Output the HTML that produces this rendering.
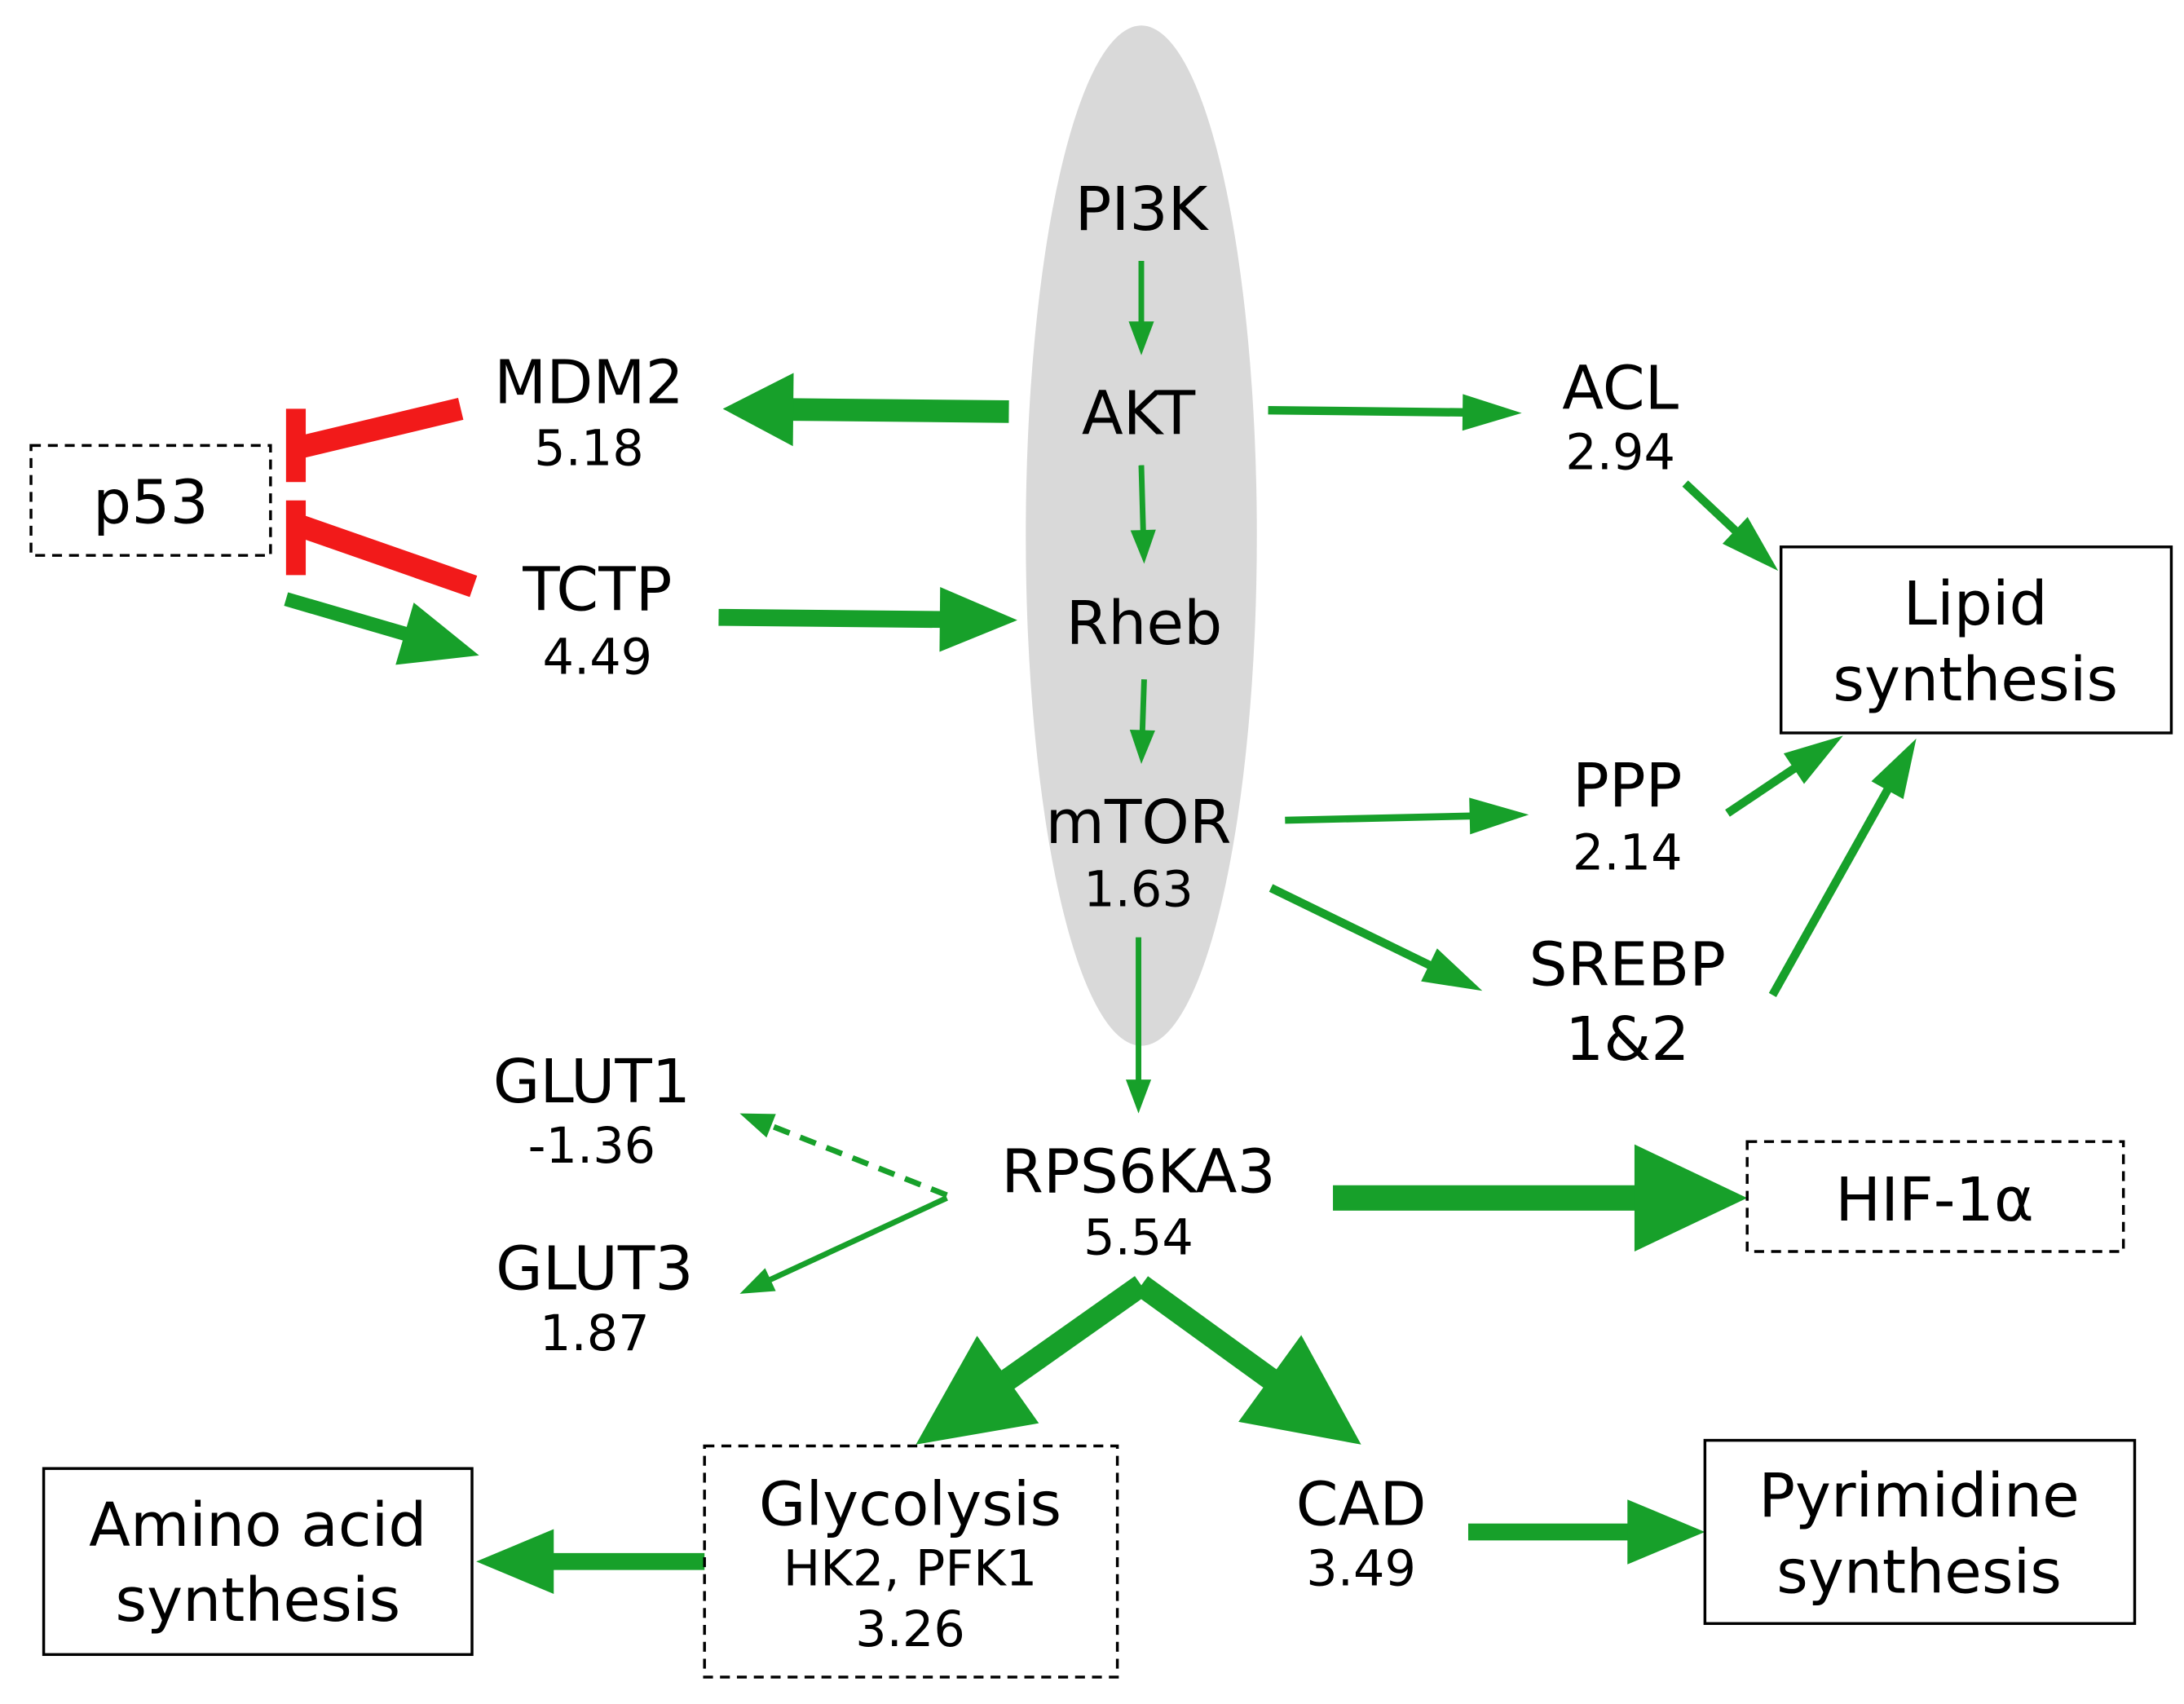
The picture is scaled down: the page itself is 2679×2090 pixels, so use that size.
<!DOCTYPE html>
<html><head><meta charset="utf-8"><style>html,body{margin:0;padding:0;background:#fff}svg{display:block}</style></head>
<body>
<svg id="sv" width="2679" height="2090" viewBox="0 0 1550 1209" xmlns="http://www.w3.org/2000/svg" font-family="'DejaVu Sans','Liberation Sans',sans-serif">
<ellipse cx="810" cy="380" rx="82" ry="362" fill="#d9d9d9"/>
<g id="arrows"></g>
<g stroke="#f21a1a" fill="none">
<line x1="327" y1="290" x2="210" y2="318" stroke-width="16"/>
<line x1="210" y1="290" x2="210" y2="342" stroke-width="14"/>
<line x1="336" y1="416" x2="210" y2="372" stroke-width="16"/>
<line x1="210" y1="355" x2="210" y2="408" stroke-width="14"/>
</g>
<g fill="none" stroke="#000" stroke-width="2">
<rect x="22" y="316" width="170" height="78" stroke-dasharray="7,5"/>
<rect x="1264" y="388" width="277" height="132"/>
<rect x="1240" y="810" width="267" height="78" stroke-dasharray="7,5"/>
<rect x="31" y="1042" width="304" height="132"/>
<rect x="500" y="1026" width="293" height="164" stroke-dasharray="7,5"/>
<rect x="1210" y="1022" width="305" height="130"/>
</g>
<g text-anchor="middle" fill="#000" font-size="43">
<text x="810" y="163">PI3K</text>
<text x="808" y="308">AKT</text>
<text x="812" y="457">Rheb</text>
<text x="808" y="598">mTOR</text>
<text x="418" y="286">MDM2</text>
<text x="424" y="433">TCTP</text>
<text x="1150" y="290">ACL</text>
<text x="1155" y="572">PPP</text>
<text x="1155" y="699">SREBP</text>
<text x="1155" y="752">1&amp;2</text>
<text x="420" y="782">GLUT1</text>
<text x="422" y="915">GLUT3</text>
<text x="808" y="846">RPS6KA3</text>
<text x="107" y="371">p53</text>
<text x="1402" y="443">Lipid</text>
<text x="1402" y="497">synthesis</text>
<text x="1373" y="866">HIF-1α</text>
<text x="183" y="1097">Amino acid</text>
<text x="183" y="1150">synthesis</text>
<text x="646" y="1082">Glycolysis</text>
<text x="966" y="1082">CAD</text>
<text x="1362" y="1076">Pyrimidine</text>
<text x="1362" y="1130">synthesis</text>
</g>
<g text-anchor="middle" fill="#000" font-size="35">
<text x="808" y="643">1.63</text>
<text x="418" y="330">5.18</text>
<text x="424" y="478">4.49</text>
<text x="1150" y="333">2.94</text>
<text x="1155" y="617">2.14</text>
<text x="420" y="825">-1.36</text>
<text x="422" y="958">1.87</text>
<text x="808" y="890">5.54</text>
<text x="646" y="1125">HK2, PFK1</text>
<text x="646" y="1168">3.26</text>
<text x="966" y="1125">3.49</text>
</g>
</svg>
<script>
var A=[
[810,185,810,252,4,24,9,0],
[810,330,812,400,4,24,9,0],
[812,482,810,542,4,24,9,0],
[808,665,808,790,4,24,9,0],
[716,292,513,290,16,50,26,0],
[900,291,1080,293,6,42,13,0],
[510,438,722,440,12,55,23,0],
[203,425,340,465,10,55,23,0],
[912,582,1085,578,5,42,13,0],
[902,630,1052,703,6,42,13,0],
[1196,343,1262,405,6,42,13,0],
[1226,577,1308,522,6,42,13,0],
[1258,706,1360,524,6,42,13,0],
[672,848,525,790,4,24,9,1],
[672,850,525,918,4,24,9,0],
[946,850,1240,850,18,80,38,0],
[810,912,650,1025,16,80,38,0],
[810,912,966,1025,16,80,38,0],
[500,1108,338,1108,12,55,23,0],
[1042,1087,1210,1087,12,55,23,0]];
var g=document.getElementById('arrows'),ns='http://www.w3.org/2000/svg',C='#17a02a',h='';
A.forEach(function(a){var x1=a[0],y1=a[1],x2=a[2],y2=a[3],w=a[4],L=a[5],H=a[6];
var dx=x2-x1,dy=y2-y1,d=Math.sqrt(dx*dx+dy*dy),ux=dx/d,uy=dy/d,px=-uy,py=ux;
var bx=x2-ux*L,by=y2-uy*L;
h+='<line x1="'+x1+'" y1="'+y1+'" x2="'+(bx+ux*2)+'" y2="'+(by+uy*2)+'" stroke="'+C+'" stroke-width="'+w+'"'+(a[7]?' stroke-dasharray="12,8"':'')+'/>';
h+='<polygon fill="'+C+'" points="'+x2+','+y2+' '+(bx+px*H)+','+(by+py*H)+' '+(bx-px*H)+','+(by-py*H)+'"/>';});
g.innerHTML=h;
</script>
</body></html>
